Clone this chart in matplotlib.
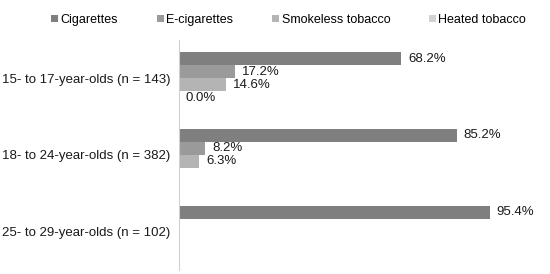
import numpy as np
import matplotlib
matplotlib.use("Agg")
import matplotlib.pyplot as plt

plt.rcParams['font.family'] = ['Liberation Sans', 'DejaVu Sans']

groupes = ["15- to 17-year-olds (n = 143)", "18- to 24-year-olds (n = 382)", "25- to 29-year-olds (n = 102)"]
produits = ["Cigarettes", "E-cigarettes", "Smokeless tobacco", "Heated tobacco"]
cigarettes = [68.2, 85.2, 95.4]
e_cigarettes = [17.2, 8.2, None]
smokeless = [14.6, 6.3, None]
heated = [0.0, None, None]
couleurs = ["#7f7f7f", "#9a9a9a", "#b4b4b4", "#d2d2d2"]

fig = plt.figure(figsize=(5.5, 2.74), dpi=100)
ax = fig.add_axes([0.325, 0.015, 0.593, 0.839])

y = np.arange(len(groupes))
h = 0.17
series = [cigarettes, e_cigarettes, smokeless, heated]
for i, (vals, nom, c) in enumerate(zip(series, produits, couleurs)):
    pos = y - 1.5 * h + i * h
    v = [np.nan if x is None else x for x in vals]
    ax.barh(pos, v, height=h, color=c, label=nom)
    for p, x in zip(pos, vals):
        if x is None:
            continue
        ax.annotate(f"{x:.1f}%", (x, p), xytext=(5, 0), textcoords="offset points",
                    va="center", ha="left", fontsize=9.5, color="#1a1a1a")

ax.set_xlim(0, 100)
ax.set_ylim(len(groupes) - 0.5, -0.5)
ax.set_yticks(y)
ax.set_yticklabels(groupes, fontsize=9.5, color="#1a1a1a")
ax.tick_params(axis="y", length=0, pad=6)
ax.set_xticks([])
for s in ["top", "right", "bottom"]:
    ax.spines[s].set_visible(False)
ax.spines["left"].set_color("#d0d0d0")

fig.legend(loc="upper center", bbox_to_anchor=(0.525, 0.99), ncol=4, frameon=False,
           fontsize=9, handlelength=0.55, handleheight=0.55, handletextpad=0.2,
           columnspacing=3.1)

plt.savefig("out.png", dpi=100)
